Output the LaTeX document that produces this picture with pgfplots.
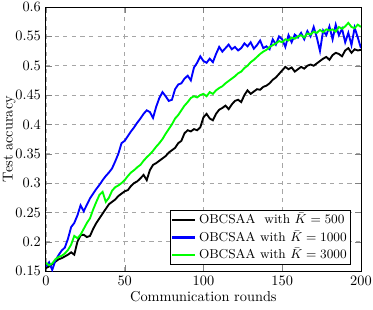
\documentclass[border=0pt]{standalone}
\usepackage{pgfplots}
\pgfplotsset{compat=1.18}
\usetikzlibrary{calc}
\pgfplotstableread{
r blue green black
0 .158 .164 .155
2 .165 .160 .158
4 .152 .163 .162
6 .168 .170 .166
8 .177 .174 .170
10 .185 .176 .172
12 .190 .180 .175
14 .205 .186 .178
16 .225 .195 .182
18 .232 .210 .178
20 .245 .206 .200
22 .262 .212 .211
24 .252 .222 .212
26 .263 .232 .208
28 .274 .240 .210
30 .282 .255 .222
32 .290 .268 .232
34 .297 .280 .240
36 .305 .285 .248
38 .312 .268 .256
40 .318 .275 .264
42 .325 .287 .268
44 .337 .293 .272
46 .350 .296 .278
48 .368 .300 .282
50 .372 .305 .286
52 .380 .312 .288
54 .388 .318 .295
56 .395 .322 .300
58 .403 .327 .303
60 .410 .331 .308
62 .418 .338 .314
64 .424 .344 .305
66 .421 .349 .322
68 .411 .355 .331
70 .430 .362 .334
72 .445 .368 .338
74 .455 .375 .342
76 .448 .384 .346
78 .440 .392 .352
80 .442 .400 .356
82 .460 .410 .360
84 .468 .416 .368
86 .470 .424 .372
88 .478 .432 .385
90 .483 .438 .390
92 .475 .445 .388
94 .497 .448 .392
96 .505 .446 .390
98 .516 .450 .395
100 .508 .452 .412
102 .505 .448 .418
104 .512 .455 .410
106 .506 .452 .407
108 .520 .458 .418
110 .532 .462 .425
112 .524 .465 .428
114 .530 .470 .432
116 .536 .474 .426
118 .528 .478 .434
120 .532 .482 .440
122 .526 .487 .442
124 .530 .490 .438
126 .538 .496 .450
128 .533 .500 .458
130 .540 .506 .452
132 .529 .510 .456
134 .535 .515 .460
136 .543 .520 .459
138 .530 .524 .464
140 .533 .527 .466
142 .528 .532 .470
144 .545 .535 .476
146 .536 .538 .480
148 .550 .542 .486
150 .545 .540 .492
152 .532 .545 .498
154 .552 .543 .494
156 .540 .548 .497
158 .553 .546 .490
160 .548 .550 .494
162 .556 .552 .498
164 .545 .548 .495
166 .559 .555 .500
168 .550 .553 .502
170 .566 .558 .500
172 .548 .556 .504
174 .525 .561 .508
176 .560 .557 .512
178 .552 .562 .515
180 .567 .560 .510
182 .545 .562 .518
184 .570 .558 .522
186 .552 .566 .520
188 .563 .563 .516
190 .540 .567 .526
192 .556 .573 .530
194 .535 .566 .522
196 .565 .564 .528
198 .548 .570 .526
200 .530 .566 .527
}\data
\begin{document}
\begin{tikzpicture}
\begin{axis}[
  scale only axis,
  width=219.5pt, height=184pt,
  xmin=0, xmax=200, ymin=0.15, ymax=0.6,
  xtick={0,50,100,150,200},
  ytick={0.15,0.2,0.25,0.3,0.35,0.4,0.45,0.5,0.55,0.6},
  yticklabel style={/pgf/number format/fixed},
  tick align=inside,
  grid=major,
  major grid style={dashed, gray!70, line width=0.5pt},
  axis line style={line width=0.6pt},
  xlabel={Communication rounds},
  ylabel={Test accuracy},
  xlabel style={yshift=3pt},
  ylabel style={yshift=-7pt},
  legend style={at={(0.968,0.022)}, anchor=south east, draw=black, line width=0.8pt,
    font=\small, inner sep=0.5pt, row sep=0pt,
    nodes={text height=6.8pt, text depth=1.5pt}, cells={anchor=west}},
  legend cell align=left,
  legend image post style={line width=1.8pt},
  legend image code/.code={\draw[#1] (0cm,0cm) -- (0.55cm,0cm);},
  every axis plot/.append style={line width=1.3pt},
]
\addplot[black] table[x=r, y=black] {\data};
\addlegendentry{OBCSAA\ \ with $\bar K=500$}
\addplot[blue] table[x=r, y=blue] {\data};
\addlegendentry{OBCSAA with $\bar K=1000$}
\addplot[green] table[x=r, y=green] {\data};
\addlegendentry{OBCSAA with $\bar K=3000$}
\coordinate (bl) at (rel axis cs:0,0);
\coordinate (tr) at (rel axis cs:1,1);
\end{axis}
\pgfresetboundingbox
\path[use as bounding box] ($(bl)+(-32pt,-27pt)$) rectangle ($(tr)+(8.4pt,4.9pt)$);
\end{tikzpicture}
\end{document}
